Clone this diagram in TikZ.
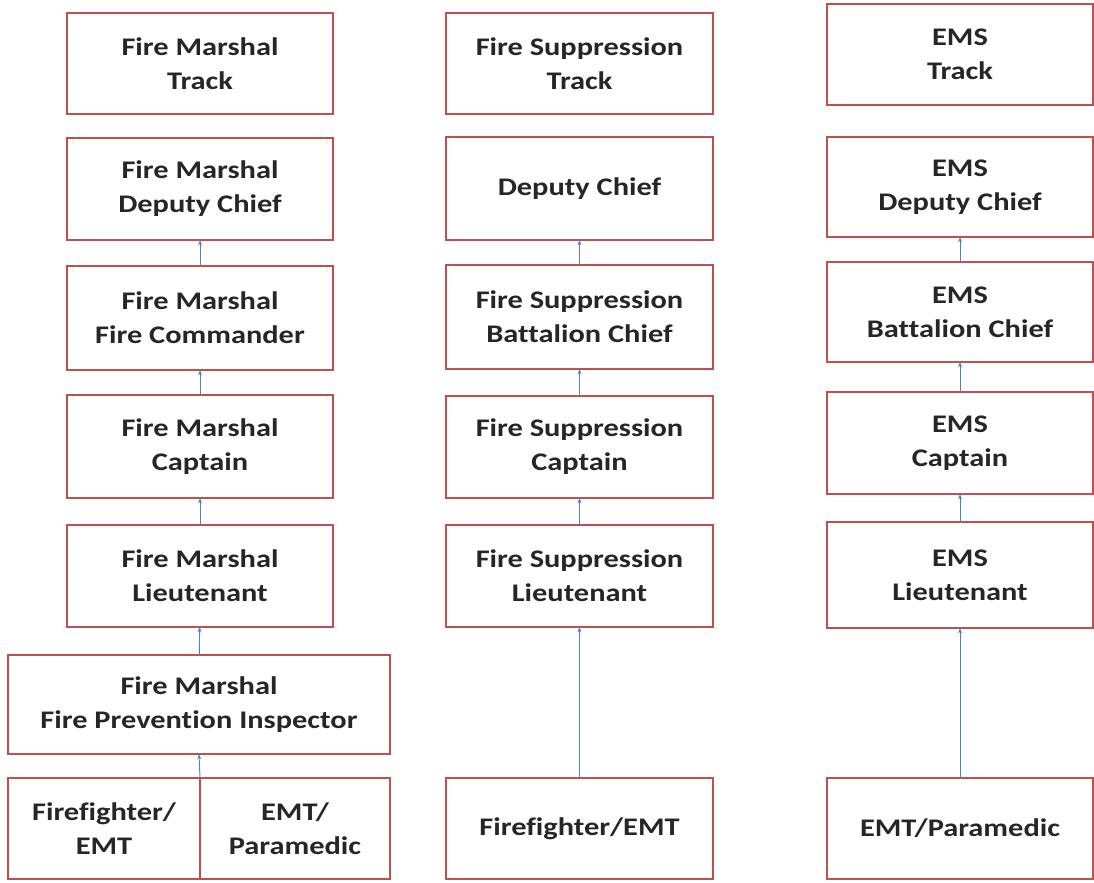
\documentclass[tikz,border=0pt]{standalone}
\usepackage{fontspec}
\setmainfont{Carlito}[FakeStretch=1.2,Ligatures=NoCommon]
\usetikzlibrary{arrows.meta}
\definecolor{boxred}{RGB}{192,80,77}
\definecolor{arrblue}{RGB}{79,129,189}
\newcommand\mkbox[6]{\node[box, minimum width={0.75pt*(#4-#2)}, minimum height={0.75pt*(#5-#3)}] (#1) at ({(#2+#4)/2},{(#3+#5)/2}) {#6};}
\begin{document}
\begin{tikzpicture}[x=0.75pt,y=-0.75pt,
  box/.style={draw=boxred, line width=1.5pt, inner sep=0pt, outer sep=0pt, align=center,
    font=\bfseries\fontsize{19}{25.5}\selectfont, text=black!85},
  up/.style={draw=arrblue, line width=0.7pt, -{Stealth[length=4pt,width=3pt]}}]
\useasboundingbox (0,0) rectangle (1094,882);
% column 1
\mkbox{ma}{67}{13}{333}{114}{Fire Marshal\\Track}
\mkbox{mb}{67}{138}{333}{240}{Fire Marshal\\Deputy Chief}
\mkbox{mc}{67}{266}{333}{370}{Fire Marshal\\Fire Commander}
\mkbox{md}{67}{395}{333}{498}{Fire Marshal\\Captain}
\mkbox{me}{67}{525}{333}{627}{Fire Marshal\\Lieutenant}
\mkbox{mf}{8}{655}{390}{754}{Fire Marshal\\Fire Prevention Inspector}
\mkbox{mg}{8}{778}{200}{879}{Firefighter/\\EMT}
\mkbox{mh}{200}{778}{390}{879}{EMT/\\Paramedic}
\coordinate (mj) at (200,778);
% column 2
\mkbox{sa}{446}{13}{713}{114}{Fire Suppression\\Track}
\mkbox{sb}{446}{137}{713}{240}{Deputy Chief}
\mkbox{sc}{446}{265}{713}{369}{Fire Suppression\\Battalion Chief}
\mkbox{sd}{446}{396}{713}{498}{Fire Suppression\\Captain}
\mkbox{se}{446}{525}{713}{627}{Fire Suppression\\Lieutenant}
\mkbox{sf}{446}{778}{713}{879}{Firefighter/EMT}
% column 3
\mkbox{ea}{827}{4}{1093}{105}{EMS\\Track}
\mkbox{eb}{827}{137}{1093}{237}{EMS\\Deputy Chief}
\mkbox{ec}{827}{262}{1093}{362}{EMS\\Battalion Chief}
\mkbox{ed}{827}{392}{1093}{494}{EMS\\Captain}
\mkbox{ee}{827}{522}{1093}{628}{EMS\\Lieutenant}
\mkbox{ef}{827}{778}{1093}{879}{EMT/Paramedic}
% arrows
\draw[up] (mc) -- (mb);
\draw[up] (md) -- (mc);
\draw[up] (me) -- (md);
\draw[up] (mf) -- (me);
\draw[up] (mj) -- (mf.south);
\draw[up] (sc) -- (sb);
\draw[up] (sd) -- (sc);
\draw[up] (se) -- (sd);
\draw[up] (sf) -- (se);
\draw[up] (ec) -- (eb);
\draw[up] (ed) -- (ec);
\draw[up] (ee) -- (ed);
\draw[up] (ef) -- (ee);
\end{tikzpicture}
\end{document}
